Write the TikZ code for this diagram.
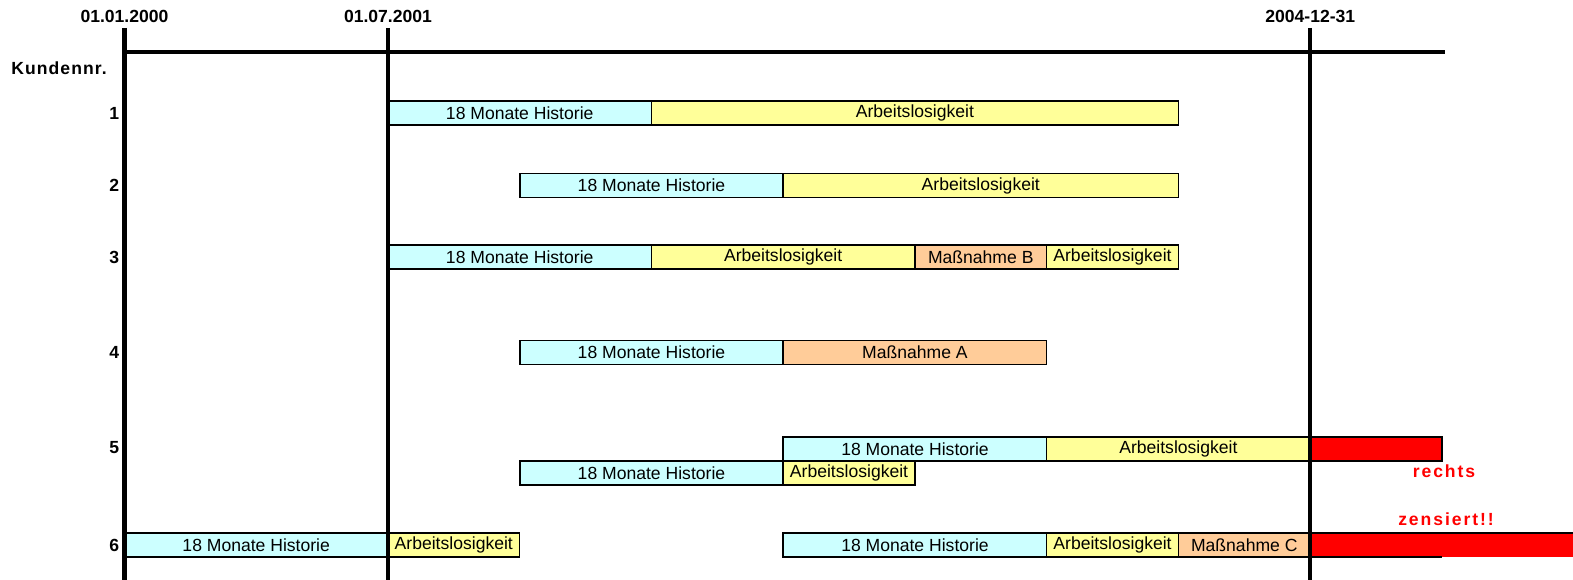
\documentclass[tikz,border=0pt]{standalone}
\usepackage{fontspec}
\setmainfont{Liberation Sans}
\usetikzlibrary{positioning}

\definecolor{histcol}{RGB}{204,255,255}
\definecolor{alocol}{RGB}{255,255,153}
\definecolor{masscol}{RGB}{255,204,153}
\definecolor{zenscol}{RGB}{255,0,0}

\begin{document}
\begin{tikzpicture}[x=0.02cm, y=-0.02cm]
        \tikzstyle{bar} = [rectangle, draw, line width=0.9pt, anchor=north west, minimum height=0.48cm, inner sep=0pt, outer sep=0pt, font=\fontsize{10}{12}\selectfont]
        \tikzstyle{span1} = [minimum width=2.635cm]
        \tikzstyle{span2} = [minimum width=5.27cm]
        \tikzstyle{span4} = [minimum width=10.54cm]
        \tikzstyle{hist} = [bar, span2, fill=histcol]
        \tikzstyle{alo} = [bar, fill=alocol]
        \tikzstyle{mass} = [bar, fill=masscol]
        \tikzstyle{zens} = [bar, span1, fill=zenscol]
        \tikzstyle{datum} = [font=\fontsize{10}{12}\bfseries\selectfont]
        \tikzstyle{rownr} = [anchor=east, inner sep=0pt, font=\fontsize{10}{12}\bfseries\selectfont]
        \tikzstyle{note} = [text=zenscol, font=\fontsize{10}{12}\bfseries\addfontfeature{LetterSpace=11}\selectfont]
        \tikzstyle{axis} = [draw, line width=2.3pt]

        \useasboundingbox (0,0) rectangle (1573,580);

        % header
        \node [datum] (d0) at (124.5,16) {01.01.2000};
        \node [datum] (d1) at (388,16) {01.07.2001};
        \node [datum] (d2) at (1310.25,16) {2004-12-31};
        \node [datum, font=\fontsize{10}{12}\bfseries\addfontfeature{LetterSpace=6}\selectfont] (kd) at (59,68) {Kundennr.};

        % row numbers
        \node [rownr] (n1) at (119.5,113) {1};
        \node [rownr] (n2) at (119.5,185.5) {2};
        \node [rownr] (n3) at (119.5,257) {3};
        \node [rownr] (n4) at (119.5,352.5) {4};
        \node [rownr] (n5) at (119.5,448) {5};
        \node [rownr] (n6) at (119.5,545) {6};

        % Kunde 1
        \node [hist] (h1) at (388,101) {18 Monate Historie};
        \node [alo, span4, right=0pt of h1] (a1) {Arbeitslosigkeit};

        % Kunde 2
        \node [hist] (h2) at (519.75,173.5) {18 Monate Historie};
        \node [alo, minimum width=7.905cm, right=0pt of h2] (a2) {Arbeitslosigkeit};

        % Kunde 3
        \node [hist] (h3) at (388,245) {18 Monate Historie};
        \node [alo, span2, right=0pt of h3] (a3) {Arbeitslosigkeit};
        \node [mass, span1, right=0pt of a3] (m3) {Maßnahme B};
        \node [alo, span1, right=0pt of m3] (b3) {Arbeitslosigkeit};

        % Kunde 4
        \node [hist] (h4) at (519.75,340.5) {18 Monate Historie};
        \node [mass, span2, right=0pt of h4] (m4) {Maßnahme A};

        % Kunde 5
        \node [hist] (h5) at (783.25,437) {18 Monate Historie};
        \node [alo, span2, right=0pt of h5] (a5) {Arbeitslosigkeit};
        \node [zens, right=0pt of a5] (z5) {};
        \node [hist] (g5) at (519.75,461) {18 Monate Historie};
        \node [alo, span1, right=0pt of g5] (c5) {Arbeitslosigkeit};

        % Kunde 6
        \node [hist] (h6) at (124.5,533) {18 Monate Historie};
        \node [alo, span1, right=0pt of h6] (a6) {Arbeitslosigkeit};
        \node [hist] (g6) at (783.25,533) {18 Monate Historie};
        \node [alo, span1, right=0pt of g6] (c6) {Arbeitslosigkeit};
        \node [mass, span1, right=0pt of c6] (m6) {Maßnahme C};
        \node [zens, span2, draw=none, right=0pt of m6] (z6) {};
        \draw [line width=0.9pt] (z6.north west) -- (z6.north east);
        \draw [line width=0.9pt] (z6.south west) -- (z6.south west -| z5.east);

        % Zensierung
        \node [note] (re) at (1444,471) {rechts};
        \node [note] (ze) at (1446,519) {zensiert!!};

        % Achsen
        \coordinate (t0) at (124.5,28);
        \coordinate (t1) at (388,28);
        \coordinate (t2) at (1310.25,28);
        \coordinate (ende) at (1445,52);
        \path [axis] (t0) -- (t0 |- 0,580);
        \path [axis] (t1) -- (t1 |- 0,580);
        \path [axis] (t2) -- (t2 |- 0,580);
        \path [axis] (t0 |- ende) -- (ende);
\end{tikzpicture}
\end{document}
